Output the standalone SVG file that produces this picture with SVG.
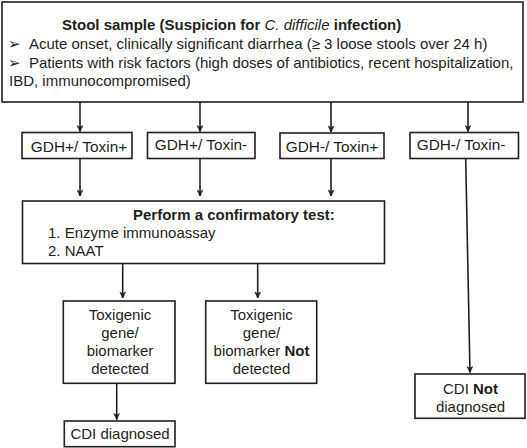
<svg xmlns="http://www.w3.org/2000/svg" width="527" height="448" viewBox="0 0 527 448">
<defs>
<style>
.box{fill:#fff;stroke:#231f20;stroke-width:1.6}
.t{font-family:"Liberation Sans","DejaVu Sans",Arial,sans-serif;font-size:15px;fill:#231f20}
.g{font-size:15.4px}
.c{text-anchor:middle}
.b{font-weight:bold}
.conn line{stroke:#231f20;stroke-width:1.6;marker-end:url(#ah)}
</style>
<marker id="ah" viewBox="0 0 10 10" refX="9.5" refY="5" markerWidth="7" markerHeight="7" orient="auto" markerUnits="userSpaceOnUse">
<path d="M1,1 L10,5 L1,9 L3.5,5 Z" fill="#231f20" stroke="#231f20" stroke-width="0.8" stroke-linejoin="round"/>
</marker>
</defs>
<rect width="527" height="448" fill="#fff"/>
<g id="connectors" class="conn">
<line x1="80" y1="102" x2="80" y2="131.5"/>
<line x1="200" y1="102" x2="200" y2="131.5"/>
<line x1="331" y1="102" x2="331" y2="132"/>
<line x1="468" y1="102" x2="468" y2="131.5"/>
<line x1="80" y1="159" x2="80" y2="196"/>
<line x1="200" y1="159" x2="200" y2="196"/>
<line x1="331" y1="159" x2="331" y2="196"/>
<line x1="465.7" y1="159" x2="470" y2="372.5"/>
<line x1="122.7" y1="264" x2="122.7" y2="298"/>
<line x1="257.7" y1="264" x2="257.7" y2="298"/>
<line x1="116.7" y1="384" x2="116.7" y2="419.5"/>
</g>
<g id="stool">
<rect class="box" x="2" y="2" width="521" height="100"/>
<text class="t" x="62" y="30"><tspan class="b">Stool sample (Suspicion for </tspan><tspan font-style="italic">C. difficile</tspan><tspan class="b"> infection)</tspan></text>
<text class="t" x="8" y="49">➢</text>
<text class="t" x="29" y="49">Acute onset, clinically significant diarrhea (≥ 3 loose stools over 24 h)</text>
<text class="t" x="8" y="68">➢</text>
<text class="t" x="29" y="68">Patients with risk factors (high doses of antibiotics, recent hospitalization,</text>
<text class="t" x="9" y="86">IBD, immunocompromised)</text>
</g>
<g id="gdh1">
<rect class="box" x="22" y="132.5" width="110" height="26"/>
<text class="t g c" x="79" y="152">GDH+/ Toxin+</text>
</g>
<g id="gdh2">
<rect class="box" x="147.5" y="132.5" width="107.5" height="26"/>
<text class="t g c" x="201" y="150">GDH+/ Toxin-</text>
</g>
<g id="gdh3">
<rect class="box" x="280" y="133" width="104" height="25.5"/>
<text class="t g c" x="332" y="152">GDH-/ Toxin+</text>
</g>
<g id="gdh4">
<rect class="box" x="410" y="132.5" width="108.5" height="26"/>
<text class="t g c" x="461" y="150">GDH-/ Toxin-</text>
</g>
<g id="confirm">
<rect class="box" x="22.5" y="201" width="362" height="62.5"/>
<text class="t b" x="133" y="219.5">Perform a confirmatory test:</text>
<text class="t" x="48" y="238">1. Enzyme immunoassay</text>
<text class="t" x="48" y="256">2. NAAT</text>
</g>
<g id="detected">
<rect class="box" x="63.3" y="301" width="111.7" height="82.3"/>
<text class="t c" x="120" y="319.5">Toxigenic</text>
<text class="t c" x="120" y="337.5">gene/</text>
<text class="t c" x="120" y="355.5">biomarker</text>
<text class="t c" x="120" y="373.5">detected</text>
</g>
<g id="notdetected">
<rect class="box" x="205.7" y="301" width="111" height="82.3"/>
<text class="t c" x="261.5" y="319.5">Toxigenic</text>
<text class="t c" x="261.5" y="337.5">gene/</text>
<text class="t c" x="261.5" y="355.5">biomarker <tspan class="b">Not</tspan></text>
<text class="t c" x="261.5" y="373.5">detected</text>
</g>
<g id="diagnosed">
<rect class="box" x="64.3" y="421" width="110.7" height="25.7"/>
<text class="t c" x="120" y="439">CDI diagnosed</text>
</g>
<g id="notdiagnosed">
<rect class="box" x="415" y="374" width="110" height="44.3"/>
<text class="t c" x="470.5" y="393.5">CDI <tspan class="b">Not</tspan></text>
<text class="t c" x="470.5" y="411.5">diagnosed</text>
</g>
</svg>
